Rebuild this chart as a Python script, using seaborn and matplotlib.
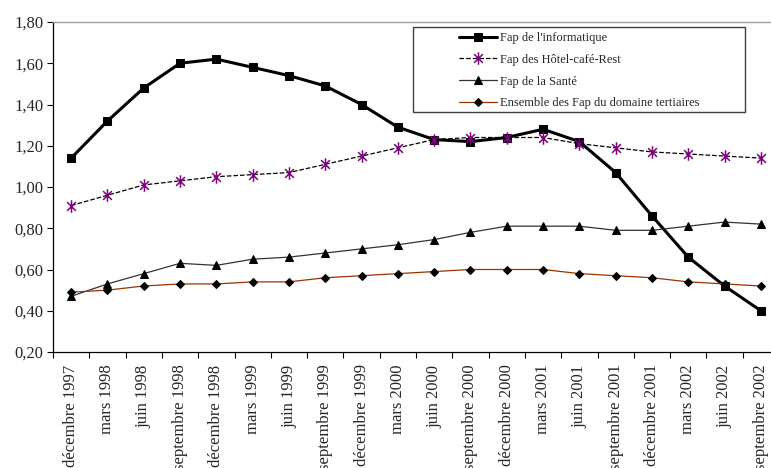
import numpy as np
import pandas as pd
import seaborn as sns
import matplotlib.pyplot as plt
from matplotlib.patches import Rectangle
from matplotlib.path import Path
from matplotlib.ticker import FuncFormatter

# trimestres
periodes = ["décembre 1997", "mars 1998", "juin 1998", "septembre 1998",
            "décembre 1998", "mars 1999", "juin 1999", "septembre 1999",
            "décembre 1999", "mars 2000", "juin 2000", "septembre 2000",
            "décembre 2000", "mars 2001", "juin 2001", "septembre 2001",
            "décembre 2001", "mars 2002", "juin 2002", "septembre 2002"]

informatique = [1.14, 1.32, 1.48, 1.60, 1.62, 1.58, 1.54, 1.49, 1.40, 1.29,
                1.23, 1.22, 1.24, 1.28, 1.22, 1.07, 0.86, 0.66, 0.52, 0.40]
hotel = [0.91, 0.96, 1.01, 1.03, 1.05, 1.06, 1.07, 1.11, 1.15, 1.19,
         1.23, 1.24, 1.24, 1.24, 1.21, 1.19, 1.17, 1.16, 1.15, 1.14]
sante = [0.47, 0.53, 0.58, 0.63, 0.62, 0.65, 0.66, 0.68, 0.70, 0.72,
         0.745, 0.78, 0.81, 0.81, 0.81, 0.79, 0.79, 0.81, 0.83, 0.82]
ensemble = [0.49, 0.50, 0.52, 0.53, 0.53, 0.54, 0.54, 0.56, 0.57, 0.58,
            0.59, 0.60, 0.60, 0.60, 0.58, 0.57, 0.56, 0.54, 0.53, 0.52]

noms = ["Fap de l'informatique", "Fap des Hôtel-café-Rest",
        "Fap de la Santé", "Ensemble des Fap du domaine tertiaires"]

sns.set_style("white")
plt.rcParams['font.family'] = ['Liberation Serif', 'DejaVu Serif']

# etoile facon Excel : croix + trait vertical
etoile = Path([(-0.7, -0.7), (0.7, 0.7), (-0.7, 0.7), (0.7, -0.7), (0, -1), (0, 1)],
              [Path.MOVETO, Path.LINETO, Path.MOVETO, Path.LINETO, Path.MOVETO, Path.LINETO])

W, H = 771, 468
fig = plt.figure(figsize=(W / 100, H / 100), dpi=100)
ax = fig.add_axes([53 / W, (H - 352) / H, 726 / W, 330 / H])

x = np.arange(len(periodes))

sns.lineplot(x=x, y=informatique, ax=ax, color='black', linewidth=2.2,
             marker='s', markersize=5.5, markeredgecolor='black', label=noms[0])
sns.lineplot(x=x, y=hotel, ax=ax, color='black', linewidth=0.9, linestyle='--',
             marker=etoile, markersize=9, markeredgecolor='#800080',
             markerfacecolor='none', markeredgewidth=1.1, label=noms[1])
sns.lineplot(x=x, y=sante, ax=ax, color='#333333', linewidth=0.9,
             marker='^', markersize=5.5, markeredgecolor='black',
             markerfacecolor='black', label=noms[2])
sns.lineplot(x=x, y=ensemble, ax=ax, color='#993300', linewidth=0.9,
             marker='D', markersize=4, markeredgecolor='black',
             markerfacecolor='black', label=noms[3])

ax.set_xlim(-0.5, len(periodes) - 0.5)
ax.set_ylim(0.20, 1.80)
ax.set_yticks(np.arange(0.20, 1.81, 0.20))
ax.yaxis.set_major_formatter(FuncFormatter(lambda v, p: f"{v:.2f}".replace('.', ',')))
ax.tick_params(axis='y', which='major', direction='out', length=4, width=0.8,
               labelsize=12, pad=3, left=True, color='black')

ax.set_xticks(x)
ax.set_xticklabels(periodes, rotation=90, va='top', ha='center', fontsize=12)
ax.set_xticks(np.arange(-0.5, len(periodes), 1), minor=True)
ax.tick_params(axis='x', which='major', length=0, pad=9)
ax.tick_params(axis='x', which='minor', direction='out', length=4, width=0.8,
               bottom=True, color='black')

for s in ['left', 'bottom']:
    ax.spines[s].set_color('black')
    ax.spines[s].set_linewidth(0.9)
ax.spines['top'].set_color('#a0a0a0')
ax.spines['top'].set_linewidth(1.0)
ax.spines['right'].set_visible(False)
ax.grid(False)

leg = ax.legend(loc='upper left', bbox_to_anchor=(459 / W, (H - 32) / H),
                bbox_transform=fig.transFigure, frameon=False, fontsize=9,
                handlelength=3.0, handletextpad=0.25, labelspacing=0.78,
                borderpad=0, borderaxespad=0)
fig.patches.append(Rectangle((413 / W, (H - 112) / H), 332 / W, 85 / H,
                             transform=fig.transFigure, fill=False,
                             edgecolor='#404040', linewidth=1.0))

fig.savefig("out.png", dpi=100)
